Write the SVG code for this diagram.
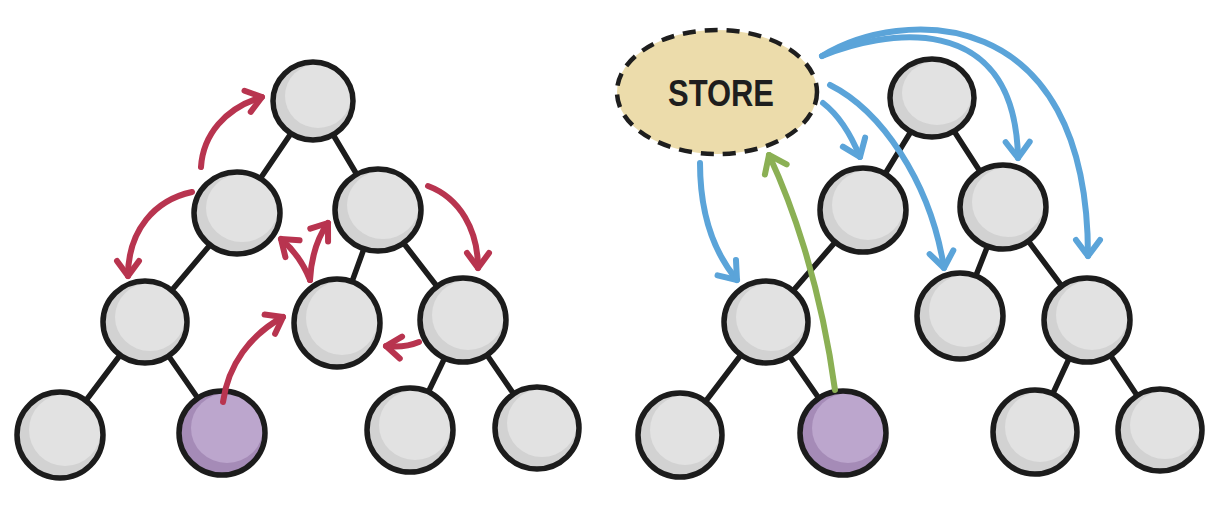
<svg xmlns="http://www.w3.org/2000/svg" width="1219" height="509" viewBox="0 0 1219 509">
<style>
.edge{stroke:#1c1c1c;stroke-width:5.5;stroke-linecap:round;fill:none}
.base{fill:#d2d2d2}
.hi{fill:#e2e2e2}
.ring{fill:none;stroke:#1c1c1c;stroke-width:5.5}
.pbase{fill:#a58bb7}
.phi{fill:#bca6cd}
.red{stroke:#b8344f;stroke-width:6;fill:none;stroke-linecap:round;marker-end:url(#mr)}
.blue{stroke:#5ba4d9;stroke-width:6;fill:none;stroke-linecap:round;marker-end:url(#mb)}
.green{stroke:#8bb054;stroke-width:6;fill:none;stroke-linecap:round;marker-end:url(#mg)}
.lbl{font-family:"Liberation Sans",Arial,sans-serif;font-weight:bold;font-size:36px;fill:#1e1e1e}
</style>
<defs>
<marker id="mr" markerUnits="userSpaceOnUse" orient="auto" refX="0" refY="0" markerWidth="40" markerHeight="40" viewBox="-20 -20 40 40" overflow="visible"><path d="M-15,-11 L0,0 L-15,11" fill="none" stroke="#b8344f" stroke-width="6" stroke-linecap="round" stroke-linejoin="round"/></marker>
<marker id="mb" markerUnits="userSpaceOnUse" orient="auto" refX="0" refY="0" markerWidth="40" markerHeight="40" viewBox="-20 -20 40 40" overflow="visible"><path d="M-16,-12 L0,0 L-16,12" fill="none" stroke="#5ba4d9" stroke-width="6" stroke-linecap="round" stroke-linejoin="round"/></marker>
<marker id="mg" markerUnits="userSpaceOnUse" orient="auto" refX="0" refY="0" markerWidth="40" markerHeight="40" viewBox="-20 -20 40 40" overflow="visible"><path d="M-16,-12 L0,0 L-16,12" fill="none" stroke="#8bb054" stroke-width="6" stroke-linecap="round" stroke-linejoin="round"/></marker>
</defs>

<g id="tree-edges">
<line class="edge" x1="313" y1="101" x2="237" y2="213"/>
<line class="edge" x1="313" y1="101" x2="378" y2="210"/>
<line class="edge" x1="237" y1="213" x2="145" y2="322"/>
<line class="edge" x1="378" y1="210" x2="337" y2="323"/>
<line class="edge" x1="378" y1="210" x2="463" y2="320"/>
<line class="edge" x1="145" y1="322" x2="60" y2="435"/>
<line class="edge" x1="145" y1="322" x2="222" y2="433"/>
<line class="edge" x1="463" y1="320" x2="410" y2="430"/>
<line class="edge" x1="463" y1="320" x2="537" y2="428"/>
<line class="edge" x1="932" y1="97" x2="863" y2="210"/>
<line class="edge" x1="932" y1="97" x2="1003" y2="207"/>
<line class="edge" x1="863" y1="210" x2="766" y2="322"/>
<line class="edge" x1="1003" y1="207" x2="960" y2="316"/>
<line class="edge" x1="1003" y1="207" x2="1087" y2="320"/>
<line class="edge" x1="766" y1="322" x2="680" y2="435"/>
<line class="edge" x1="766" y1="322" x2="843" y2="433"/>
<line class="edge" x1="1087" y1="320" x2="1035" y2="432"/>
<line class="edge" x1="1087" y1="320" x2="1160" y2="430"/>
</g>

<g id="L-root"><ellipse class="base" cx="313" cy="101" rx="40" ry="39"/><ellipse class="hi" cx="318" cy="96" rx="33" ry="32"/><ellipse class="ring" cx="313" cy="101" rx="40" ry="39"/></g>
<g id="L-a"><ellipse class="base" cx="237" cy="213" rx="43" ry="41"/><ellipse class="hi" cx="242" cy="208" rx="36" ry="34"/><ellipse class="ring" cx="237" cy="213" rx="43" ry="41"/></g>
<g id="L-b"><ellipse class="base" cx="378" cy="210" rx="43" ry="41"/><ellipse class="hi" cx="383" cy="205" rx="36" ry="34"/><ellipse class="ring" cx="378" cy="210" rx="43" ry="41"/></g>
<g id="L-c"><ellipse class="base" cx="145" cy="322" rx="42" ry="41"/><ellipse class="hi" cx="150" cy="317" rx="35" ry="34"/><ellipse class="ring" cx="145" cy="322" rx="42" ry="41"/></g>
<g id="L-d"><ellipse class="base" cx="337" cy="323" rx="43" ry="44"/><ellipse class="hi" cx="342" cy="318" rx="36" ry="37"/><ellipse class="ring" cx="337" cy="323" rx="43" ry="44"/></g>
<g id="L-e"><ellipse class="base" cx="463" cy="320" rx="43" ry="42"/><ellipse class="hi" cx="468" cy="315" rx="36" ry="35"/><ellipse class="ring" cx="463" cy="320" rx="43" ry="42"/></g>
<g id="L-f"><ellipse class="base" cx="60" cy="435" rx="43" ry="43"/><ellipse class="hi" cx="65" cy="430" rx="36" ry="36"/><ellipse class="ring" cx="60" cy="435" rx="43" ry="43"/></g>
<g id="L-g"><ellipse class="pbase" cx="222" cy="433" rx="43" ry="42"/><ellipse class="phi" cx="227" cy="428" rx="36" ry="35"/><ellipse class="ring" cx="222" cy="433" rx="43" ry="42"/></g>
<g id="L-h"><ellipse class="base" cx="410" cy="430" rx="43" ry="42"/><ellipse class="hi" cx="415" cy="425" rx="36" ry="35"/><ellipse class="ring" cx="410" cy="430" rx="43" ry="42"/></g>
<g id="L-i"><ellipse class="base" cx="537" cy="428" rx="42" ry="41"/><ellipse class="hi" cx="542" cy="423" rx="35" ry="34"/><ellipse class="ring" cx="537" cy="428" rx="42" ry="41"/></g>

<g id="R-root"><ellipse class="base" cx="932" cy="98" rx="42" ry="39"/><ellipse class="hi" cx="937" cy="93" rx="35" ry="32"/><ellipse class="ring" cx="932" cy="98" rx="42" ry="39"/></g>
<g id="R-a"><ellipse class="base" cx="863" cy="210" rx="43" ry="42"/><ellipse class="hi" cx="868" cy="205" rx="36" ry="35"/><ellipse class="ring" cx="863" cy="210" rx="43" ry="42"/></g>
<g id="R-b"><ellipse class="base" cx="1003" cy="207" rx="43" ry="42"/><ellipse class="hi" cx="1008" cy="202" rx="36" ry="35"/><ellipse class="ring" cx="1003" cy="207" rx="43" ry="42"/></g>
<g id="R-c"><ellipse class="base" cx="766" cy="322" rx="42" ry="41"/><ellipse class="hi" cx="771" cy="317" rx="35" ry="34"/><ellipse class="ring" cx="766" cy="322" rx="42" ry="41"/></g>
<g id="R-d"><ellipse class="base" cx="960" cy="316" rx="43" ry="43"/><ellipse class="hi" cx="965" cy="311" rx="36" ry="36"/><ellipse class="ring" cx="960" cy="316" rx="43" ry="43"/></g>
<g id="R-e"><ellipse class="base" cx="1087" cy="320" rx="43" ry="42"/><ellipse class="hi" cx="1092" cy="315" rx="36" ry="35"/><ellipse class="ring" cx="1087" cy="320" rx="43" ry="42"/></g>
<g id="R-f"><ellipse class="base" cx="680" cy="435" rx="42" ry="42"/><ellipse class="hi" cx="685" cy="430" rx="35" ry="35"/><ellipse class="ring" cx="680" cy="435" rx="42" ry="42"/></g>
<g id="R-g"><ellipse class="pbase" cx="843" cy="433" rx="43" ry="42"/><ellipse class="phi" cx="848" cy="428" rx="36" ry="35"/><ellipse class="ring" cx="843" cy="433" rx="43" ry="42"/></g>
<g id="R-h"><ellipse class="base" cx="1035" cy="432" rx="42" ry="42"/><ellipse class="hi" cx="1040" cy="427" rx="35" ry="35"/><ellipse class="ring" cx="1035" cy="432" rx="42" ry="42"/></g>
<g id="R-i"><ellipse class="base" cx="1160" cy="430" rx="42" ry="41"/><ellipse class="hi" cx="1165" cy="425" rx="35" ry="34"/><ellipse class="ring" cx="1160" cy="430" rx="42" ry="41"/></g>

<g id="store">
<ellipse cx="717" cy="92" rx="100" ry="62" fill="#ecdcab" stroke="#1e1e1e" stroke-width="4.5" stroke-dasharray="13 9"/>
<text class="lbl" x="721" y="106" text-anchor="middle" textLength="106" lengthAdjust="spacingAndGlyphs">STORE</text>
</g>

<g id="connectors">
<path class="red" d="M201,167 C203,135 225,108 262,97"/>
<path class="red" d="M192,192 C155,200 128,230 128,276"/>
<path class="red" d="M310,280 Q300,255 281,239"/>
<path class="red" d="M310,280 Q312,245 328,223"/>
<path class="red" d="M428,186 C460,198 478,230 478,268"/>
<path class="red" d="M223,402 C228,365 250,335 283,317"/>
<path class="red" d="M419,342 Q405,348 386,346"/>
<path class="blue" d="M700,163 C700,210 712,250 737,280"/>
<path class="blue" d="M823,103 Q845,120 860,157"/>
<path class="blue" d="M830,85 C880,110 930,180 944,268"/>
<path class="blue" d="M822,56 C880,32 1015,5 1018,158"/>
<path class="blue" d="M822,56 C900,8 1088,0 1088,256"/>
<path class="green" d="M835,390 C820,280 790,200 769,155"/>
</g>
</svg>
